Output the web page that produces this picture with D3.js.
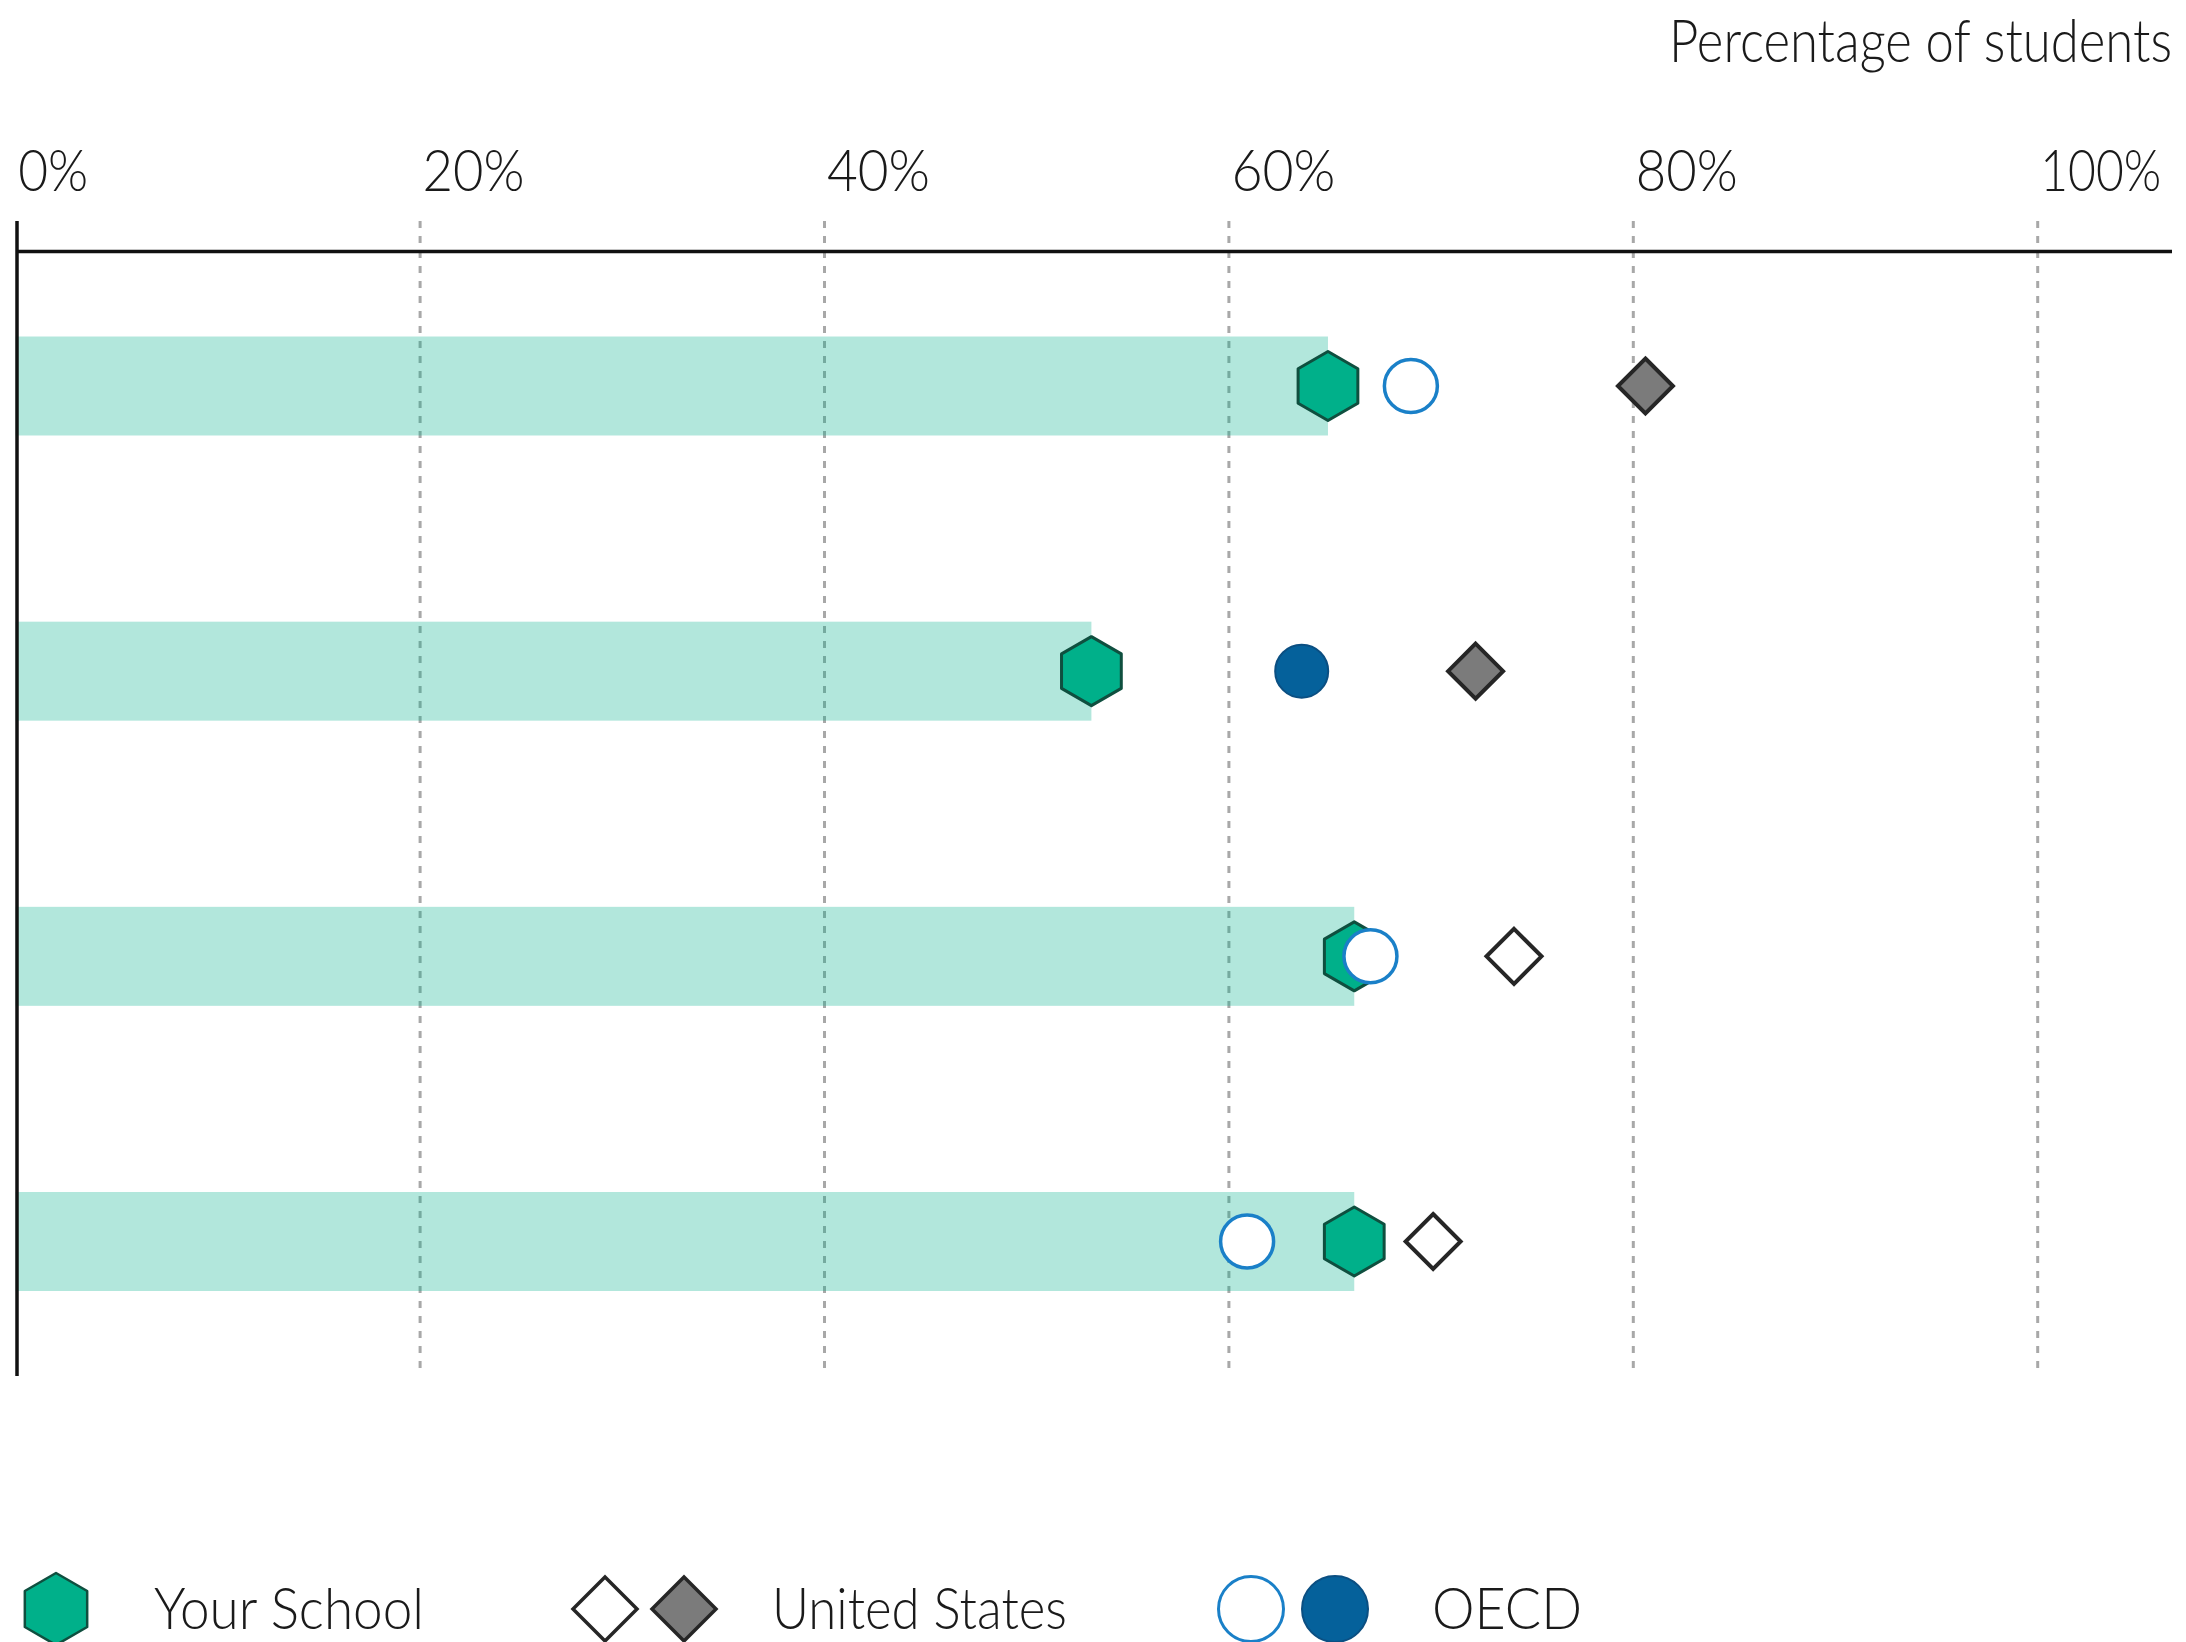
<!DOCTYPE html>
<html>
<head>
<meta charset="utf-8">
<script src="https://cdn.jsdelivr.net/npm/d3@7"></script>
<style>
  html, body { margin: 0; padding: 0; background: #fff; }
  svg { display: block; }
  text { font-family: "Lato", "Open Sans", "DejaVu Sans", sans-serif; font-weight: 300; fill: #1a1a1a; }
</style>
</head>
<body>
<script>
// ---- data ----
const categories = ["Item 1", "Item 2", "Item 3", "Item 4"];
const schoolValues = [64.9, 53.2, 66.2, 66.2];
const usValues = [80.6, 72.2, 74.1, 70.1];
const usSignificant = [true, true, false, false];
const oecdValues = [69.0, 63.6, 67.0, 60.9];
const oecdSignificant = [false, true, false, false];
const tickValues = [0, 20, 40, 60, 80, 100];
const tickLabels = ["0%", "20%", "40%", "60%", "80%", "100%"];
const axisTitle = "Percentage of students";
const legendLabels = ["Your School", "United States", "OECD"];

// ---- layout ----
const W = 2186, H = 1642;
const svg = d3.select("body").append("svg").attr("width", W).attr("height", H);

const x = d3.scaleLinear().domain([0, 100]).range([15.7, 2037.7]);
const y = d3.scalePoint().domain(categories).range([386, 1241.5]);
const barH = 99;

const COL = {
  hexFill: "#00b08a", hexStroke: "#0f4f3f",
  barFill: "#00b08a",
  oecdOpen: "#1a80c8", oecdFill: "#05619b", oecdFillStroke: "#0b4f82",
  usFill: "#7b7b7b", usStroke: "#262626"
};
// measured text widths (style)
const tickTextWidths = [70, 102, 103, 104, 102, 121];
const legendTextWidths = [270, 295, 150];

function hexPath(R) {
  const pts = d3.range(6).map(i => {
    const a = (Math.PI / 180) * (-90 + 60 * i);
    return [R * Math.cos(a), R * Math.sin(a)];
  });
  return "M" + pts.map(p => p.join(",")).join("L") + "Z";
}
function diamondPath(r) {
  return `M0,${-r}L${r},0L0,${r}L${-r},0Z`;
}

// gridlines (under bars)
svg.append("g").selectAll("line").data(tickValues.filter(d => d > 0)).join("line")
  .attr("x1", d => x(d)).attr("x2", d => x(d))
  .attr("y1", 221).attr("y2", 1369)
  .attr("stroke", "#a8a8a8").attr("stroke-width", 3)
  .attr("stroke-dasharray", "7,8");

// bars
svg.append("g").selectAll("rect").data(categories).join("rect")
  .attr("x", x(0)).attr("y", d => y(d) - barH / 2)
  .attr("width", (d, i) => x(schoolValues[i]) - x(0))
  .attr("height", barH)
  .attr("fill", COL.barFill).attr("fill-opacity", 0.3);

// axis labels via d3 axis
const axisG = svg.append("g").attr("transform", "translate(0,191)")
  .call(d3.axisTop(x).tickValues(tickValues).tickSize(0).tickPadding(0)
        .tickFormat((d, i) => tickLabels[i]));
axisG.select(".domain").remove();
axisG.attr("font-family", null).attr("font-size", null);
axisG.selectAll("text")
  .attr("text-anchor", "start").attr("dx", 2).attr("y", 0).attr("dy", 0)
  .style("font-size", "58px")
  .attr("textLength", (d, i) => tickTextWidths[i])
  .attr("lengthAdjust", "spacingAndGlyphs")
  .attr("fill", "#1a1a1a");

// axis lines
svg.append("line").attr("x1", 16).attr("x2", 2172).attr("y1", 251.5).attr("y2", 251.5)
  .attr("stroke", "#111").attr("stroke-width", 3.5);
svg.append("line").attr("x1", 17).attr("x2", 17).attr("y1", 221).attr("y2", 1376)
  .attr("stroke", "#111").attr("stroke-width", 3.5);

// axis title (condensed horizontally to match the narrow original face)
const title = svg.append("text").attr("text-anchor", "end")
  .style("font-size", "59px").text(axisTitle);
const natW = title.node().getComputedTextLength() || 570;
title.attr("transform", `translate(2172,62) scale(${503 / natW},1)`);

// markers
const mk = svg.append("g");
mk.selectAll("path.hex").data(categories).join("path").attr("class", "hex")
  .attr("d", hexPath(34.5))
  .attr("transform", (d, i) => `translate(${x(schoolValues[i])},${y(d)})`)
  .attr("fill", COL.hexFill).attr("stroke", COL.hexStroke)
  .attr("stroke-width", 3).attr("stroke-linejoin", "round");
mk.selectAll("circle.oecd").data(categories).join("circle").attr("class", "oecd")
  .attr("cx", (d, i) => x(oecdValues[i])).attr("cy", d => y(d)).attr("r", 26.5)
  .attr("fill", (d, i) => oecdSignificant[i] ? COL.oecdFill : "#fff")
  .attr("stroke", (d, i) => oecdSignificant[i] ? COL.oecdFillStroke : COL.oecdOpen)
  .attr("stroke-width", (d, i) => oecdSignificant[i] ? 2 : 3.5);
mk.selectAll("path.us").data(categories).join("path").attr("class", "us")
  .attr("d", diamondPath(27.5))
  .attr("transform", (d, i) => `translate(${x(usValues[i])},${y(d)})`)
  .attr("fill", (d, i) => usSignificant[i] ? COL.usFill : "#fff")
  .attr("stroke", COL.usStroke).attr("stroke-width", 4).attr("stroke-linejoin", "miter");

// legend
const lg = svg.append("g");
const ly = 1609;
function legendText(xp, i) {
  lg.append("text").attr("x", xp).attr("y", 1629).style("font-size", "58px")
    .attr("textLength", legendTextWidths[i]).attr("lengthAdjust", "spacingAndGlyphs")
    .text(legendLabels[i]);
}
lg.append("path").attr("d", hexPath(36)).attr("transform", `translate(56,${ly})`)
  .attr("fill", COL.hexFill).attr("stroke", COL.hexStroke).attr("stroke-width", 2.5)
  .attr("stroke-linejoin", "round");
legendText(154, 0);

lg.append("path").attr("d", diamondPath(32)).attr("transform", `translate(605,${ly})`)
  .attr("fill", "#fff").attr("stroke", COL.usStroke).attr("stroke-width", 3.5);
lg.append("path").attr("d", diamondPath(32)).attr("transform", `translate(684,${ly})`)
  .attr("fill", COL.usFill).attr("stroke", COL.usStroke).attr("stroke-width", 3.5);
legendText(772, 1);

lg.append("circle").attr("cx", 1251).attr("cy", ly).attr("r", 32.5)
  .attr("fill", "#fff").attr("stroke", COL.oecdOpen).attr("stroke-width", 3);
lg.append("circle").attr("cx", 1335).attr("cy", ly).attr("r", 33)
  .attr("fill", COL.oecdFill).attr("stroke", COL.oecdFillStroke).attr("stroke-width", 2);
legendText(1432, 2);
</script>
</body>
</html>
